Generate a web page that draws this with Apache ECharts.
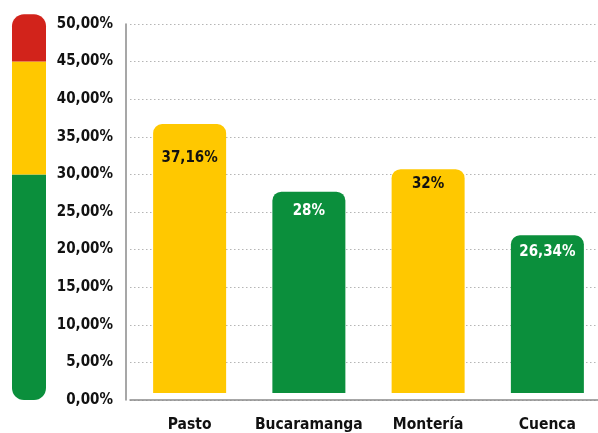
<!DOCTYPE html>
<html>
<head>
<meta charset="utf-8">
<script src="https://cdn.jsdelivr.net/npm/echarts@6/dist/echarts.min.js"></script>
<style>
html,body{margin:0;padding:0;background:#fff;}
#c{width:598px;height:433px;}
</style>
</head>
<body>
<div id="c"></div>
<script>
// Data
var categories = ['Pasto', 'Bucaramanga', 'Montería', 'Cuenca'];
var barTops = [36.7, 27.7, 30.7, 21.9];            // bar top heights (%) as drawn
var barLabels = ['37,16%', '28%', '32%', '26,34%']; // printed labels
var barZones = ['yellow', 'green', 'yellow', 'green'];
var barBase = 0.93;                                  // small gap above axis (%)
var scaleZones = [30, 15, 6.3];                      // green 0-30, yellow 30-45, red 45-51.3

var COLORS = { green: '#0B8F3C', yellow: '#FFC800', red: '#D2231B' };
var FONT = '"DejaVu Sans Condensed", "Liberation Sans Narrow", "DejaVu Sans", sans-serif';
var labelDist = [27, 12, 7, 9];

var chart = echarts.init(document.getElementById('c'), null, { renderer: 'canvas' });

var option = {
  animation: false,
  backgroundColor: '#fff',
  grid: [
    { left: 130, width: 477, top: 24, bottom: 33, outerBoundsMode: 'none', containLabel: false },
    { left: 12, width: 34, top: 24, bottom: 33, outerBoundsMode: 'none', containLabel: false }
  ],
  xAxis: [
    {
      type: 'category', gridIndex: 0, data: categories,
      axisLine: { show: true, lineStyle: { color: '#8a8a8a', width: 1.5 } },
      axisTick: { show: false },
      axisLabel: { interval: 0, color: '#111', fontFamily: FONT, fontWeight: 'bold', fontSize: 15.5, margin: 17 }
    },
    {
      type: 'category', gridIndex: 1, data: ['scale'],
      show: false
    }
  ],
  yAxis: [
    {
      type: 'value', gridIndex: 0, min: 0, max: 50, interval: 5, offset: 4,
      axisLine: { show: true, lineStyle: { color: '#8a8a8a', width: 1.5 } },
      axisTick: { show: false },
      splitLine: { show: true, lineStyle: { color: '#b5b5b5', type: [1.5, 2.5], width: 1 } },
      axisLabel: {
        color: '#111', fontFamily: FONT, fontWeight: 'bold', fontSize: 15, margin: 13,
        formatter: function (v) { return v.toFixed(2).replace('.', ',') + '%'; }
      }
    },
    { type: 'value', gridIndex: 1, min: 0, max: 50, show: false }
  ],
  series: [
    {
      type: 'bar', xAxisIndex: 0, yAxisIndex: 0, stack: 'b', barWidth: 73,
      silent: true,
      itemStyle: { color: 'rgba(0,0,0,0)' },
      data: categories.map(function () { return barBase; })
    },
    {
      type: 'bar', xAxisIndex: 0, yAxisIndex: 0, stack: 'b', barWidth: 73,
      data: barTops.map(function (v, i) {
        var z = barZones[i];
        return {
          value: v - barBase,
          itemStyle: { color: COLORS[z], borderRadius: [9, 9, 0, 0] },
          label: {
            show: true, position: 'insideTop', distance: labelDist[i],
            formatter: barLabels[i],
            color: z === 'green' ? '#fff' : '#111',
            fontFamily: FONT, fontWeight: 'bold', fontSize: 15
          }
        };
      })
    },
    {
      type: 'bar', xAxisIndex: 1, yAxisIndex: 1, stack: 's', barWidth: 34, clip: false,
      data: [{ value: scaleZones[0], itemStyle: { color: COLORS.green, borderRadius: [0, 0, 12, 12] } }]
    },
    {
      type: 'bar', xAxisIndex: 1, yAxisIndex: 1, stack: 's', barWidth: 34, clip: false,
      data: [{ value: scaleZones[1], itemStyle: { color: COLORS.yellow } }]
    },
    {
      type: 'bar', xAxisIndex: 1, yAxisIndex: 1, stack: 's', barWidth: 34, clip: false,
      data: [{ value: scaleZones[2], itemStyle: { color: COLORS.red, borderRadius: [12, 12, 0, 0] } }]
    }
  ]
};
chart.setOption(option);
</script>
</body>
</html>
